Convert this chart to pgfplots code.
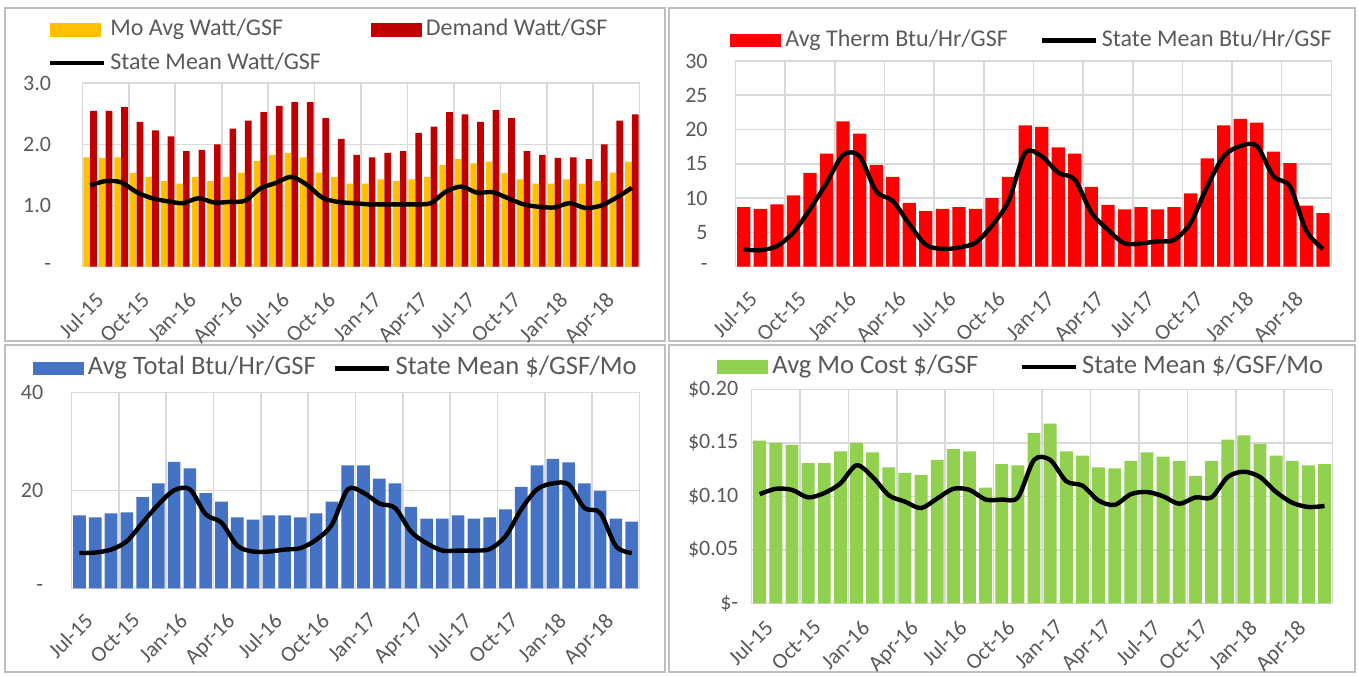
\documentclass[border=0pt]{standalone}
\usepackage{pgfplots}
\pgfplotsset{compat=1.18}
\usepackage{pgfplotstable}
\usepackage{fontspec}
\setmainfont{Carlito}
\definecolor{tickc}{HTML}{595959}
\definecolor{legc}{HTML}{595959}
\definecolor{gridc}{HTML}{D9D9D9}
\definecolor{framec}{HTML}{BFBFBF}
\definecolor{cyel}{HTML}{FFC000}
\definecolor{cdred}{HTML}{C00000}
\definecolor{cred}{HTML}{FF0000}
\definecolor{cblue}{HTML}{4472C4}
\definecolor{cgreen}{HTML}{92D050}
\newcommand\ticfont{\fontsize{11}{13}\selectfont}
\newcommand\legfontA{\fontsize{12}{14}\selectfont}
\newcommand\legfontB{\fontsize{13.3}{15}\selectfont}

\pgfplotstableread{
i mo dem mean
0 1.79 2.55 1.33
1 1.78 2.55 1.40
2 1.79 2.61 1.38
3 1.53 2.37 1.22
4 1.47 2.23 1.12
5 1.40 2.13 1.07
6 1.36 1.89 1.04
7 1.47 1.91 1.12
8 1.40 2.00 1.05
9 1.47 2.26 1.06
10 1.54 2.39 1.08
11 1.73 2.53 1.28
12 1.83 2.63 1.37
13 1.86 2.69 1.47
14 1.79 2.69 1.34
15 1.54 2.43 1.13
16 1.47 2.09 1.06
17 1.36 1.83 1.04
18 1.36 1.79 1.02
19 1.43 1.86 1.02
20 1.40 1.89 1.02
21 1.43 2.19 1.02
22 1.47 2.29 1.04
23 1.66 2.53 1.23
24 1.76 2.49 1.31
25 1.69 2.37 1.21
26 1.72 2.56 1.22
27 1.53 2.43 1.12
28 1.43 1.89 1.02
29 1.36 1.83 0.98
30 1.36 1.78 0.97
31 1.43 1.79 1.04
32 1.36 1.76 0.96
33 1.40 2.00 1.00
34 1.54 2.39 1.13
35 1.72 2.49 1.29
}\tabA

\pgfplotstableread{
i therm mean
0 8.7 2.5
1 8.45 2.4
2 9.1 3.0
3 10.4 5.0
4 13.7 8.4
5 16.5 12.2
6 21.2 16.3
7 19.4 16.1
8 14.8 11.0
9 13.1 9.6
10 9.3 6.2
11 8.1 3.2
12 8.45 2.6
13 8.7 2.8
14 8.45 3.5
15 10.0 6.0
16 13.1 9.6
17 20.6 16.6
18 20.4 16.1
19 17.4 13.7
20 16.5 12.7
21 11.65 7.9
22 9.0 5.4
23 8.35 3.4
24 8.7 3.4
25 8.35 3.7
26 8.7 3.9
27 10.7 6.4
28 15.8 11.7
29 20.6 16.1
30 21.55 17.6
31 21.0 17.6
32 16.8 13.2
33 15.1 11.7
34 8.9 5.2
35 7.8 2.6
}\tabB

\pgfplotstableread{
i total mean
0 14.9 7.2
1 14.5 7.3
2 15.3 7.9
3 15.5 9.6
4 18.6 13.4
5 21.4 17.1
6 25.8 20.0
7 24.5 20.2
8 19.4 15.1
9 17.7 13.4
10 14.5 8.7
11 14.0 7.5
12 14.9 7.5
13 14.9 7.9
14 14.5 8.2
15 15.3 9.9
16 17.7 13.0
17 25.1 20.2
18 25.1 19.5
19 22.4 17.3
20 21.4 16.4
21 16.6 11.6
22 14.2 9.2
23 14.2 7.7
24 14.9 7.7
25 14.2 7.7
26 14.5 8.0
27 16.1 10.6
28 20.7 16.1
29 25.1 20.2
30 26.4 21.4
31 25.7 21.2
32 21.4 16.4
33 19.9 15.4
34 14.2 8.6
35 13.6 7.2
}\tabC

\pgfplotstableread{
i cost mean
0 0.152 0.102
1 0.150 0.107
2 0.148 0.106
3 0.131 0.099
4 0.131 0.103
5 0.142 0.112
6 0.150 0.129
7 0.141 0.118
8 0.127 0.101
9 0.122 0.095
10 0.120 0.089
11 0.134 0.098
12 0.144 0.107
13 0.142 0.106
14 0.108 0.097
15 0.130 0.097
16 0.129 0.099
17 0.159 0.134
18 0.168 0.134
19 0.142 0.114
20 0.138 0.110
21 0.127 0.096
22 0.126 0.092
23 0.133 0.102
24 0.141 0.104
25 0.137 0.100
26 0.133 0.093
27 0.119 0.099
28 0.133 0.099
29 0.153 0.118
30 0.157 0.123
31 0.149 0.118
32 0.138 0.104
33 0.133 0.094
34 0.129 0.090
35 0.130 0.091
}\tabD

\pgfplotsset{
  barleg/.style={legend image code/.code={\fill[##1,draw=none] (0pt,-3.4pt) rectangle (25.5pt,3.4pt);}},
  lineleg/.style={legend image code/.code={\draw[##1] (0pt,0pt) -- (27pt,0pt);}},
  meanline/.style={black, line width=2.2pt, smooth, line join=round, lineleg},
  panel/.style={
    scale only axis, anchor=south west,
    xmin=-0.5, xmax=35.5, ymin=0,
    axis line style={draw=gridc, line width=0.8pt},
    major tick length=0pt, minor tick num=0,
    ymajorgrids, grid style={draw=gridc, line width=0.8pt},
    xtick={0,3,...,33},
    xticklabels={Jul-15,Oct-15,Jan-16,Apr-16,Jul-16,Oct-16,Jan-17,Apr-17,Jul-17,Oct-17,Jan-18,Apr-18},
    extra x ticks={2.5,5.5,...,32.5}, extra x tick labels={},
    extra x tick style={grid=major},
    yticklabel style={font=\ticfont, text=tickc, inner sep=0pt, anchor=east},
    legend cell align=left,
    legend style={draw=none, fill=none, inner sep=0pt, text=legc, anchor=west},
  },
  xlab/.style={xticklabel style={font=\ticfont, text=tickc, inner sep=0pt, xshift=2pt, yshift=#1, rotate=45, anchor=north east}},
  topleg/.style={legend style={font=\legfontA, nodes={inner xsep=2pt, inner ysep=2.85pt, text height=8.5pt, text depth=2.5pt}}},
  botleg/.style={legend style={font=\legfontB, nodes={inner xsep=2pt, inner ysep=2pt, text height=9.4pt, text depth=2.8pt}}},
}

\begin{document}
\begin{tikzpicture}
\path[use as bounding box] (0,0) rectangle (679.5pt,337.5pt);
\begin{scope}[framec, line width=1pt]
\draw (2.5pt,333.5pt) rectangle (332.5pt,167pt);
\draw (334.5pt,333.5pt) rectangle (677.5pt,167pt);
\draw (2.5pt,165pt) rectangle (332.5pt,1.5pt);
\draw (334.5pt,165pt) rectangle (677.5pt,1.5pt);
\end{scope}

% Panel 1
\begin{axis}[panel, xlab=-12pt, topleg, at={(41.2pt,204.15pt)}, width=278.6pt, height=91.7pt,
  ymax=3, ytick={0,1,2,3}, yticklabels={-\hspace{2.5pt},1.0,2.0,3.0},
  yticklabel style={xshift=-15.5pt},
  legend columns=2,
  legend style={at={(axis description cs:-0.0626,1.2007)}, /tikz/every even column/.append style={column sep=23pt}}]
\addplot[ybar, bar width=0.43, bar shift=-0.22, fill=cyel, draw=none, barleg] table[x=i,y=mo]{\tabA};
\addlegendentry{Mo Avg Watt/GSF}
\addplot[ybar, bar width=0.43, bar shift=0.22, fill=cdred, draw=none, barleg] table[x=i,y=dem]{\tabA};
\addlegendentry{Demand Watt/GSF}
\addplot[meanline] table[x=i,y=mean]{\tabA};
\addlegendentry{State Mean Watt/GSF}
\end{axis}

% Panel 2
\begin{axis}[panel, xlab=-11.5pt, topleg, at={(367.75pt,204.15pt)}, width=297.9pt, height=102.85pt,
  ymax=30, ytick={0,5,...,30}, yticklabels={-,5,10,15,20,25,30},
  yticklabel style={xshift=-13.75pt},
  legend columns=2,
  legend style={at={(axis description cs:-0.0092,1.1)}, /tikz/every even column/.append style={column sep=13.85pt}}]
\addplot[ybar, bar width=0.8, bar shift=0, fill=cred, draw=none, barleg] table[x=i,y=therm]{\tabB};
\addlegendentry{Avg Therm Btu/Hr/GSF}
\addplot[meanline] table[x=i,y=mean]{\tabB};
\addlegendentry{State Mean Btu/Hr/GSF}
\end{axis}

% Panel 3
\begin{axis}[panel, xlab=-11.5pt, botleg, at={(35.8pt,43.35pt)}, width=284pt, height=98pt,
  ymax=40, ytick={0,20,40}, yticklabels={-,20,40},
  yticklabel style={xshift=-14pt},
  legend columns=2,
  legend style={at={(axis description cs:-0.0688,1.1224)}, /tikz/every even column/.append style={column sep=6.7pt}}]
\addplot[ybar, bar width=0.8, bar shift=0, fill=cblue, draw=none, barleg] table[x=i,y=total]{\tabC};
\addlegendentry{Avg Total Btu/Hr/GSF}
\addplot[meanline] table[x=i,y=mean]{\tabC};
\addlegendentry{State Mean \$/GSF/Mo}
\end{axis}

% Panel 4
\begin{axis}[panel, xlab=-7.5pt, botleg, at={(375.8pt,35.85pt)}, width=290.5pt, height=107pt,
  ymax=0.2, ytick={0,0.05,0.1,0.15,0.2}, yticklabels={\$-\hspace{11pt},\$0.05,\$0.10,\$0.15,\$0.20},
  yticklabel style={xshift=-6.5pt},
  legend columns=2,
  legend style={at={(axis description cs:-0.0596,1.1056)}, /tikz/every even column/.append style={column sep=18.6pt}}]
\addplot[ybar, bar width=0.8, bar shift=0, fill=cgreen, draw=none, barleg] table[x=i,y=cost]{\tabD};
\addlegendentry{Avg Mo Cost \$/GSF}
\addplot[meanline] table[x=i,y=mean]{\tabD};
\addlegendentry{State Mean \$/GSF/Mo}
\end{axis}
\end{tikzpicture}
\end{document}
